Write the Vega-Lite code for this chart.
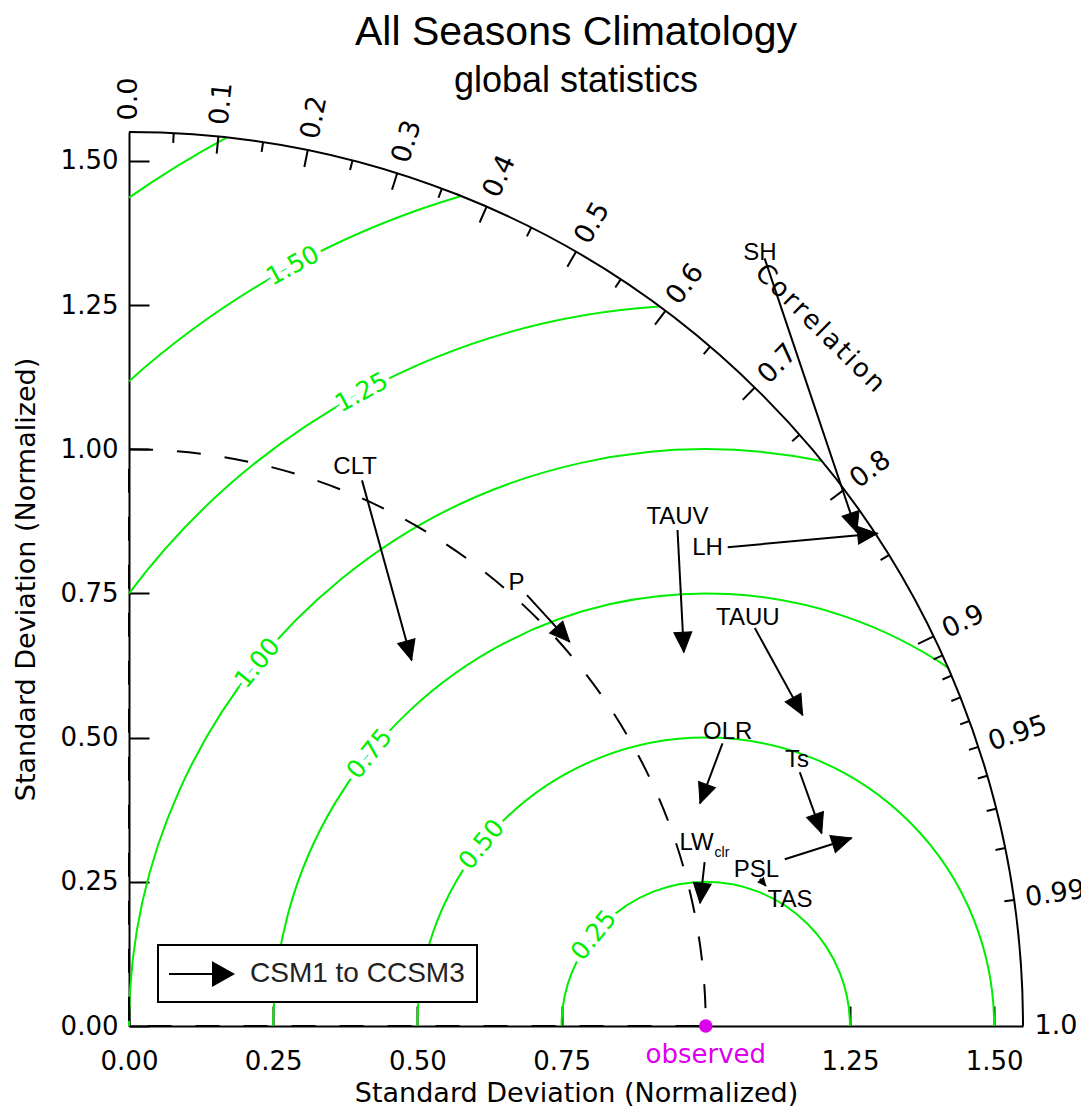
{
  "$schema": "https://vega.github.io/schema/vega-lite/v6.json",
  "width": 894,
  "height": 894,
  "autosize": {"type": "none"},
  "padding": {"left": 129, "top": 132, "right": 58, "bottom": 83},
  "background": "white",
  "title": {
    "text": "All Seasons Climatology",
    "subtitle": "global statistics",
    "font": "Liberation Sans",
    "fontSize": 41,
    "fontWeight": "normal",
    "color": "black",
    "subtitleFont": "Liberation Sans",
    "subtitleFontSize": 36,
    "subtitleColor": "black",
    "anchor": "middle",
    "offset": -22,
    "subtitlePadding": 10
  },
  "config": {
    "view": {"stroke": null},
    "axis": {
      "domainColor": "black",
      "domainWidth": 2,
      "tickColor": "black",
      "tickWidth": 2,
      "tickSize": -20,
      "labelFont": "DejaVu Sans",
      "labelFontSize": 26,
      "labelColor": "black",
      "titleFont": "DejaVu Sans",
      "titleFontSize": 27,
      "titleFontWeight": "normal",
      "titleColor": "black",
      "grid": false,
      "labelFlush": false,
      "labelOverlap": false
    },
    "axisX": {"labelPadding": 42, "titlePadding": 6},
    "axisY": {"labelPadding": 31, "titlePadding": 20},
    "legend": {"strokeWidth": 2}
  },
  "datasets": {
    "arrows": [
      {"v": "CLT", "sub": "", "x0": 0.404, "y0": 0.946, "x1": 0.490, "y1": 0.634, "lx": 0.392, "ly": 0.969},
      {"v": "P", "sub": "", "x0": 0.690, "y0": 0.747, "x1": 0.764, "y1": 0.666, "lx": 0.672, "ly": 0.768},
      {"v": "SH", "sub": "", "x0": 1.102, "y0": 1.331, "x1": 1.262, "y1": 0.856, "lx": 1.094, "ly": 1.341},
      {"v": "LH", "sub": "", "x0": 1.038, "y0": 0.830, "x1": 1.298, "y1": 0.854, "lx": 1.003, "ly": 0.828},
      {"v": "TAUV", "sub": "", "x0": 0.951, "y0": 0.860, "x1": 0.962, "y1": 0.648, "lx": 0.951, "ly": 0.882},
      {"v": "TAUU", "sub": "", "x0": 1.085, "y0": 0.690, "x1": 1.168, "y1": 0.539, "lx": 1.073, "ly": 0.707},
      {"v": "OLR", "sub": "", "x0": 1.029, "y0": 0.490, "x1": 0.990, "y1": 0.386, "lx": 1.038, "ly": 0.510},
      {"v": "Ts", "sub": "", "x0": 1.163, "y0": 0.440, "x1": 1.201, "y1": 0.334, "lx": 1.158, "ly": 0.461},
      {"v": "LW", "sub": "clr", "x0": 0.998, "y0": 0.284, "x1": 0.990, "y1": 0.213, "lx": 0.984, "ly": 0.317},
      {"v": "PSL", "sub": "", "x0": 1.137, "y0": 0.289, "x1": 1.253, "y1": 0.326, "lx": 1.088, "ly": 0.270},
      {"v": "TAS", "sub": "", "x0": 1.094, "y0": 0.255, "x1": 1.104, "y1": 0.243, "lx": 1.146, "ly": 0.218}
    ]
  },
  "layer": [
    {
      "data": {"values": [{"r": 0.25}, {"r": 0.5}, {"r": 0.75}, {"r": 1.0}, {"r": 1.25}, {"r": 1.5}, {"r": 1.75}]},
      "transform": [
        {"calculate": "datum.r <= 1 ? -PI/2 : -asin(1/datum.r)", "as": "t1"},
        {"calculate": "1 + datum.r <= 1.55 ? PI/2 : asin(((1.55*1.55 - datum.r*datum.r + 1)/2 - 1)/datum.r)", "as": "t2"}
      ],
      "mark": {"type": "arc", "filled": false, "color": "#00ee00", "strokeWidth": 2},
      "encoding": {
        "x": {"datum": 1, "type": "quantitative", "scale": {"domain": [0, 1.55], "nice": false, "zero": true}},
        "y": {"datum": 0, "type": "quantitative", "scale": {"domain": [0, 1.55], "nice": false, "zero": true}},
        "radius": {"field": "r", "type": "quantitative", "scale": {"type": "linear", "domain": [0, 1.55], "range": [0, 894], "zero": true}},
        "radius2": {"field": "r"},
        "theta": {"field": "t1", "type": "quantitative", "scale": null, "stack": null},
        "theta2": {"field": "t2"}
      }
    },
    {
      "data": {"values": [{"r": 0.25, "t": "0.25"}, {"r": 0.5, "t": "0.50"}, {"r": 0.75, "t": "0.75"}, {"r": 1.0, "t": "1.00"}, {"r": 1.25, "t": "1.25"}, {"r": 1.5, "t": "1.50"}]},
      "transform": [
        {"calculate": "datum.r <= 1 ? 141 : 118.5", "as": "a"},
        {"calculate": "1 + datum.r*cos(datum.a*PI/180)", "as": "x"},
        {"calculate": "datum.r*sin(datum.a*PI/180)", "as": "y"},
        {"calculate": "90 - datum.a", "as": "ang"}
      ],
      "mark": {"type": "text", "font": "DejaVu Sans", "fontSize": 25, "align": "center", "baseline": "middle", "stroke": "white", "strokeWidth": 10, "color": "white"},
      "encoding": {
        "x": {"field": "x", "type": "quantitative"},
        "y": {"field": "y", "type": "quantitative"},
        "text": {"field": "t"},
        "angle": {"field": "ang", "type": "quantitative", "scale": null}
      }
    },
    {
      "data": {"values": [{"r": 0.25, "t": "0.25"}, {"r": 0.5, "t": "0.50"}, {"r": 0.75, "t": "0.75"}, {"r": 1.0, "t": "1.00"}, {"r": 1.25, "t": "1.25"}, {"r": 1.5, "t": "1.50"}]},
      "transform": [
        {"calculate": "datum.r <= 1 ? 141 : 118.5", "as": "a"},
        {"calculate": "1 + datum.r*cos(datum.a*PI/180)", "as": "x"},
        {"calculate": "datum.r*sin(datum.a*PI/180)", "as": "y"},
        {"calculate": "90 - datum.a", "as": "ang"}
      ],
      "mark": {"type": "text", "font": "DejaVu Sans", "fontSize": 25, "align": "center", "baseline": "middle", "color": "#00ee00"},
      "encoding": {
        "x": {"field": "x", "type": "quantitative"},
        "y": {"field": "y", "type": "quantitative"},
        "text": {"field": "t"},
        "angle": {"field": "ang", "type": "quantitative", "scale": null}
      }
    },
    {
      "data": {"values": [{"r": 1.0}]},
      "mark": {"type": "arc", "filled": false, "color": "black", "strokeWidth": 2, "strokeDash": [24, 24], "theta": 0, "theta2": 1.5708},
      "encoding": {
        "x": {"datum": 0, "type": "quantitative"},
        "y": {"datum": 0, "type": "quantitative"},
        "radius": {"field": "r", "type": "quantitative"}
      }
    },
    {
      "data": {"values": [{"r": 1.55}]},
      "mark": {"type": "arc", "filled": false, "color": "black", "strokeWidth": 2, "theta": 0, "theta2": 1.5708},
      "encoding": {
        "x": {"datum": 0, "type": "quantitative"},
        "y": {"datum": 0, "type": "quantitative"},
        "radius": {"field": "r", "type": "quantitative"},
        "radius2": {"field": "r"}
      }
    },
    {
      "data": {"values": [{"c": 0.1}, {"c": 0.2}, {"c": 0.3}, {"c": 0.4}, {"c": 0.5}, {"c": 0.6}, {"c": 0.7}, {"c": 0.8}, {"c": 0.9}]},
      "transform": [
        {"calculate": "1.55*datum.c", "as": "xa"},
        {"calculate": "1.55*sqrt(1-datum.c*datum.c)", "as": "ya"},
        {"calculate": "1.52*datum.c", "as": "xb"},
        {"calculate": "1.52*sqrt(1-datum.c*datum.c)", "as": "yb"}
      ],
      "mark": {"type": "rule", "color": "black", "strokeWidth": 2},
      "encoding": {
        "x": {"field": "xa", "type": "quantitative"},
        "y": {"field": "ya", "type": "quantitative"},
        "x2": {"field": "xb"},
        "y2": {"field": "yb"}
      }
    },
    {
      "data": {"values": [{"c": 0.05}, {"c": 0.15}, {"c": 0.25}, {"c": 0.35}, {"c": 0.45}, {"c": 0.55}, {"c": 0.65}, {"c": 0.75}, {"c": 0.85}, {"c": 0.91}, {"c": 0.92}, {"c": 0.93}, {"c": 0.94}, {"c": 0.95}, {"c": 0.96}, {"c": 0.97}, {"c": 0.98}, {"c": 0.99}]},
      "transform": [
        {"calculate": "1.55*datum.c", "as": "xa"},
        {"calculate": "1.55*sqrt(1-datum.c*datum.c)", "as": "ya"},
        {"calculate": "1.533*datum.c", "as": "xb"},
        {"calculate": "1.533*sqrt(1-datum.c*datum.c)", "as": "yb"}
      ],
      "mark": {"type": "rule", "color": "black", "strokeWidth": 2},
      "encoding": {
        "x": {"field": "xa", "type": "quantitative"},
        "y": {"field": "ya", "type": "quantitative"},
        "x2": {"field": "xb"},
        "y2": {"field": "yb"}
      }
    },
    {
      "data": {"values": [{"c": 0.0, "t": "0.0"}, {"c": 0.1, "t": "0.1"}, {"c": 0.2, "t": "0.2"}, {"c": 0.3, "t": "0.3"}, {"c": 0.4, "t": "0.4"}, {"c": 0.5, "t": "0.5"}, {"c": 0.6, "t": "0.6"}, {"c": 0.7, "t": "0.7"}, {"c": 0.8, "t": "0.8"}, {"c": 0.9, "t": "0.9"}, {"c": 0.95, "t": "0.95"}, {"c": 0.99, "t": "0.99"}, {"c": 1.0, "t": "1.0"}]},
      "transform": [
        {"calculate": "1.57*datum.c", "as": "x"},
        {"calculate": "1.57*sqrt(1-datum.c*datum.c)", "as": "y"},
        {"calculate": "-acos(datum.c)*180/PI", "as": "ang"}
      ],
      "mark": {"type": "text", "font": "DejaVu Sans", "fontSize": 27, "align": "left", "baseline": "middle", "color": "black"},
      "encoding": {
        "x": {"field": "x", "type": "quantitative"},
        "y": {"field": "y", "type": "quantitative"},
        "text": {"field": "t"},
        "angle": {"field": "ang", "type": "quantitative", "scale": null}
      }
    },
    {
      "data": {"values": [{"x": 1.198, "y": 1.21, "t": "C\u200ao\u200ar\u200ar\u200ae\u200al\u200aa\u200at\u200ai\u200ao\u200an"}]},
      "mark": {"type": "text", "font": "DejaVu Sans", "fontSize": 26, "align": "center", "baseline": "middle", "color": "black", "angle": 44.7},
      "encoding": {
        "x": {"field": "x", "type": "quantitative"},
        "y": {"field": "y", "type": "quantitative"},
        "text": {"field": "t"}
      }
    },
    {
      "data": {"name": "arrows"},
      "mark": {"type": "rule", "color": "black", "strokeWidth": 2},
      "encoding": {
        "x": {"field": "x0", "type": "quantitative", "scale": {"domain": [0, 1.55], "nice": false, "zero": true},
              "axis": {"title": "Standard Deviation (Normalized)", "values": [0, 0.25, 0.5, 0.75, 1.25, 1.5], "format": ".2f"}},
        "y": {"field": "y0", "type": "quantitative", "scale": {"domain": [0, 1.55], "nice": false, "zero": true},
              "axis": {"title": "Standard Deviation (Normalized)", "values": [0, 0.25, 0.5, 0.75, 1, 1.25, 1.5], "format": ".2f"}},
        "x2": {"field": "x1"},
        "y2": {"field": "y1"}
      }
    },
    {
      "data": {"name": "arrows"},
      "transform": [
        {"calculate": "atan2(datum.x1 - datum.x0, datum.y1 - datum.y0)*180/PI", "as": "ang"},
        {"calculate": "sqrt(pow(datum.x1 - datum.x0, 2) + pow(datum.y1 - datum.y0, 2)) < 0.05 ? 60 : 400", "as": "hs"}
      ],
      "mark": {"type": "point", "shape": "M0,0L-0.9,2L0.9,2Z", "filled": true, "opacity": 1, "stroke": "black", "strokeWidth": 1},
      "encoding": {
        "x": {"field": "x1", "type": "quantitative"},
        "y": {"field": "y1", "type": "quantitative"},
        "angle": {"field": "ang", "type": "quantitative", "scale": null},
        "size": {"field": "hs", "type": "quantitative", "scale": null},
        "color": {
          "datum": "CSM1 to CCSM3",
          "type": "nominal",
          "scale": {"range": ["black"]},
          "legend": {
            "orient": "none",
            "legendX": 29,
            "legendY": 813,
            "title": null,
            "symbolType": "M-2,0L0.75,0M0.75,-0.7L2,0L0.75,0.7Z",
            "symbolSize": 1024,
            "symbolFillColor": "black",
            "symbolStrokeColor": "black",
            "symbolStrokeWidth": 2,
            "symbolOffset": 14,
            "labelFont": "Liberation Sans",
            "labelFontSize": 28,
            "labelColor": "#222222",
            "labelOffset": 32,
            "labelLimit": 400,
            "padding": 12,
            "strokeColor": "black",
            "fillColor": "white",
            "cornerRadius": 0
          }
        }
      }
    },
    {
      "data": {"name": "arrows"},
      "mark": {"type": "text", "font": "Liberation Sans", "fontSize": 24, "align": "center", "baseline": "middle", "color": "black"},
      "encoding": {
        "x": {"field": "lx", "type": "quantitative"},
        "y": {"field": "ly", "type": "quantitative"},
        "text": {"field": "v"}
      }
    },
    {
      "data": {"name": "arrows"},
      "transform": [{"filter": "datum.sub != ''"}],
      "mark": {"type": "text", "font": "Liberation Sans", "fontSize": 14, "align": "left", "baseline": "middle", "color": "black", "dx": 18, "dy": 10},
      "encoding": {
        "x": {"field": "lx", "type": "quantitative"},
        "y": {"field": "ly", "type": "quantitative"},
        "text": {"field": "sub"}
      }
    },
    {
      "data": {"values": [{"x": 1.0, "y": 0.0, "t": "observed"}]},
      "mark": {"type": "point", "filled": true, "opacity": 1, "color": "#dd00ee", "size": 180},
      "encoding": {
        "x": {"field": "x", "type": "quantitative"},
        "y": {"field": "y", "type": "quantitative"}
      }
    },
    {
      "data": {"values": [{"x": 1.0, "y": 0.0, "t": "observed"}]},
      "mark": {"type": "text", "font": "DejaVu Sans", "fontSize": 26, "align": "center", "baseline": "middle", "color": "#dd00ee", "dy": 29},
      "encoding": {
        "x": {"field": "x", "type": "quantitative"},
        "y": {"field": "y", "type": "quantitative"},
        "text": {"field": "t"}
      }
    }
  ]
}
